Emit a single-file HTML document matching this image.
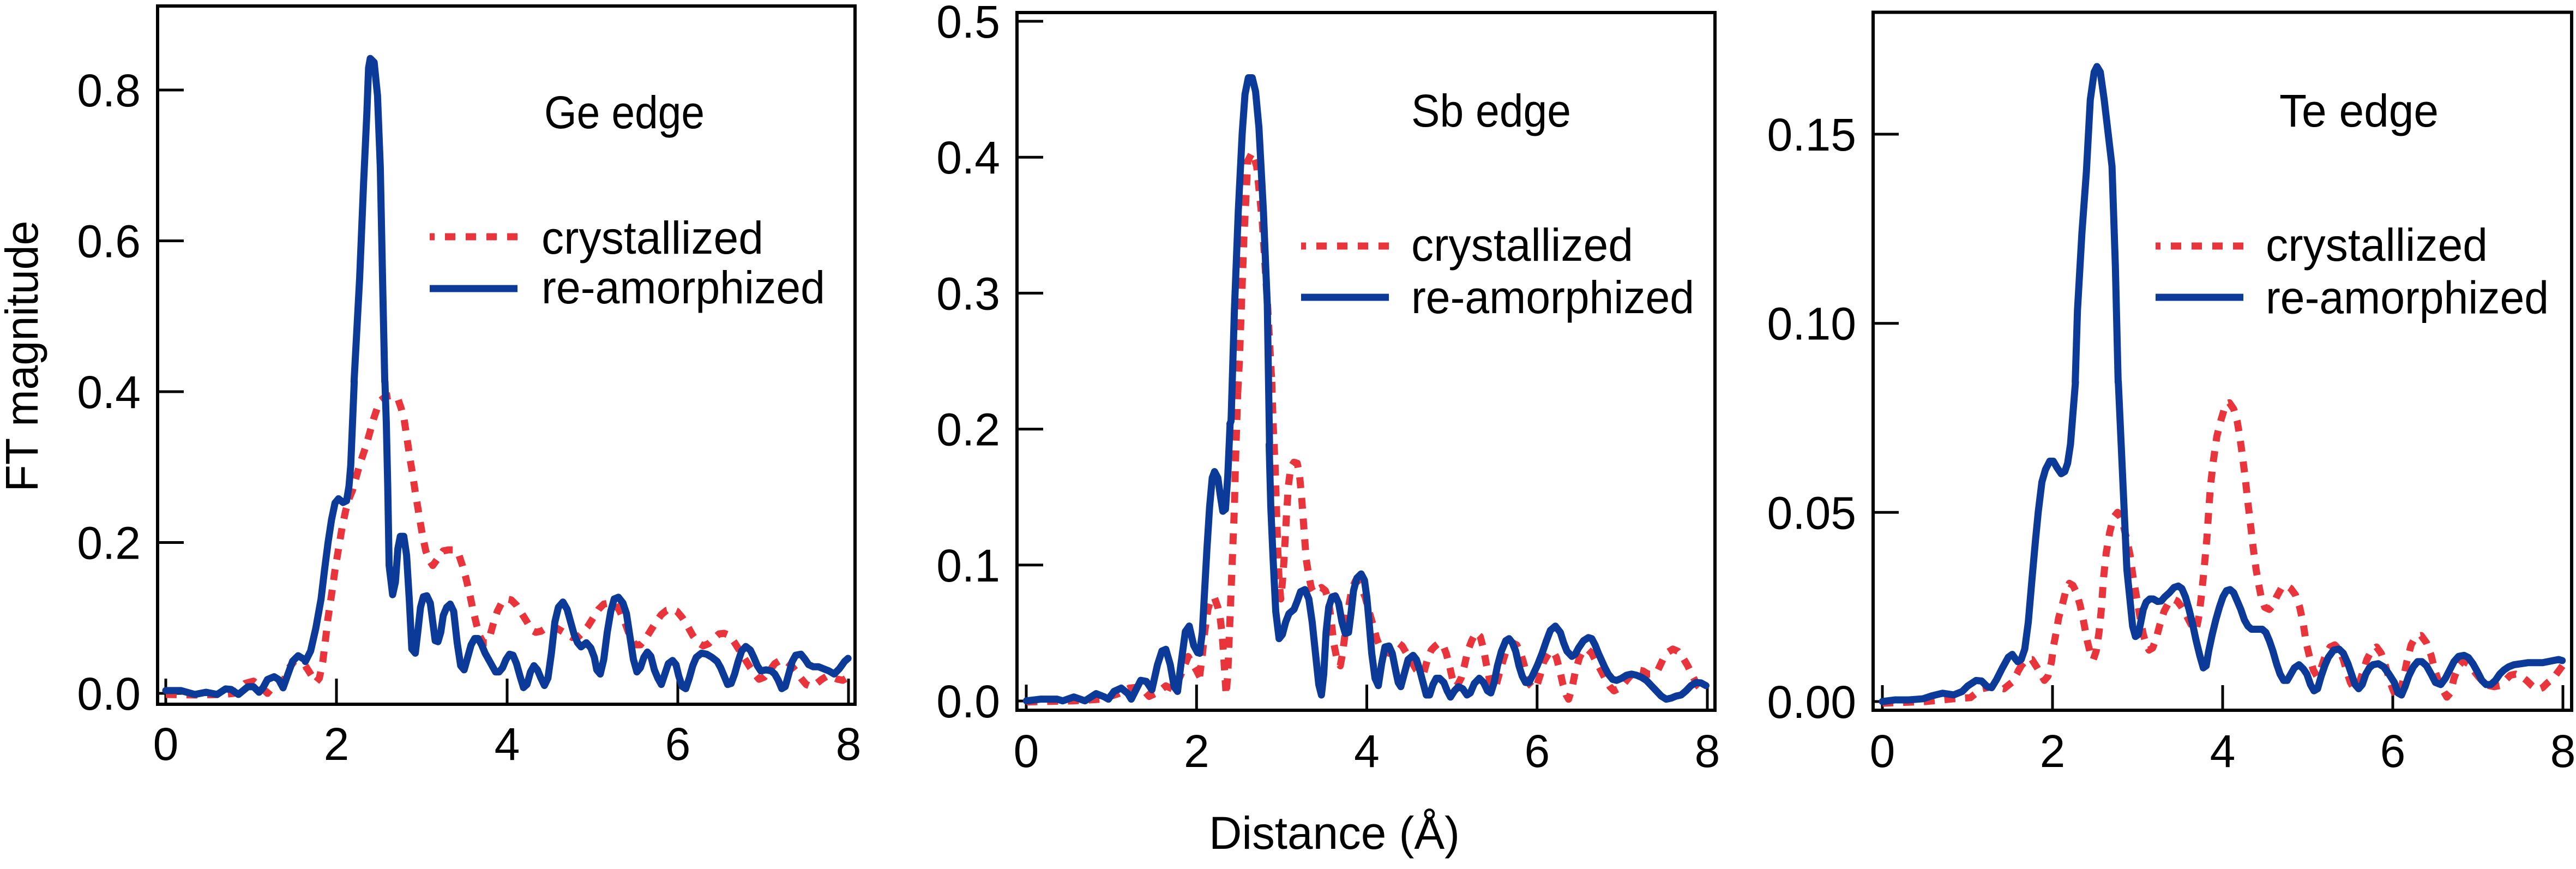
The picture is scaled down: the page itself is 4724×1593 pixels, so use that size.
<!DOCTYPE html>
<html><head><meta charset="utf-8"><style>
html,body{margin:0;padding:0;background:#fff;}
svg{display:block;}
text{font-family:"Liberation Sans",Arial,sans-serif;fill:#000;}
.b{fill:none;stroke:#0c3a98;stroke-width:13;stroke-linejoin:round;stroke-linecap:round;}
.r{fill:none;stroke:#e8343a;stroke-width:13;stroke-dasharray:20 18;stroke-linejoin:round;}
.lr{stroke:#e8343a;stroke-width:13;stroke-dasharray:19 19;stroke-dashoffset:10;}
.lb{stroke:#0c3a98;stroke-width:13;}
.fr{fill:none;stroke:#000;stroke-width:6;}
.tk{stroke:#000;stroke-width:5;}
.tl{font-size:84px;}
.lg{font-size:84px;}
</style></head><body>
<svg width="4724" height="1593" viewBox="0 0 4724 1593" xmlns="http://www.w3.org/2000/svg">
<rect x="0" y="0" width="4724" height="1593" fill="#fff"/>

<!-- ============ PANEL 1 (Ge) ============ -->
<g>
<rect class="fr" x="289" y="11" width="1279" height="1280"/>
<g class="tk">
<line x1="289" y1="1271" x2="337" y2="1271"/>
<line x1="289" y1="994.5" x2="337" y2="994.5"/>
<line x1="289" y1="718" x2="337" y2="718"/>
<line x1="289" y1="441.5" x2="337" y2="441.5"/>
<line x1="289" y1="165" x2="337" y2="165"/>
<line x1="304" y1="1291" x2="304" y2="1244"/>
<line x1="617" y1="1291" x2="617" y2="1244"/>
<line x1="930" y1="1291" x2="930" y2="1244"/>
<line x1="1243" y1="1291" x2="1243" y2="1244"/>
<line x1="1556" y1="1291" x2="1556" y2="1244"/>
</g>
<g class="tl" text-anchor="end">
<text x="258" y="1301">0.0</text>
<text x="258" y="1024.5">0.2</text>
<text x="258" y="748">0.4</text>
<text x="258" y="471.5">0.6</text>
<text x="258" y="195">0.8</text>
</g>
<g class="tl" text-anchor="middle">
<text x="304" y="1393">0</text>
<text x="617" y="1393">2</text>
<text x="930" y="1393">4</text>
<text x="1243" y="1393">6</text>
<text x="1556" y="1393">8</text>
</g>
<text class="lg" x="998" y="235" textLength="294" lengthAdjust="spacingAndGlyphs">Ge edge</text>
<line class="lr" x1="788" y1="434" x2="949" y2="434"/>
<line class="lb" x1="788" y1="529" x2="949" y2="529"/>
<text class="lg" x="993" y="465" textLength="407" lengthAdjust="spacingAndGlyphs">crystallized</text>
<text class="lg" x="993" y="556" textLength="520" lengthAdjust="spacingAndGlyphs">re-amorphized</text>

<!-- red -->
<g transform="matrix(1.02455,0,0,1.01468,-1.316,2.65)">
<polyline class="r" vector-effect="non-scaling-stroke" points="298,1252 350,1253 400,1252 420,1250 440,1232 455,1228 470,1240 480,1250 490,1238 500,1232 510,1225 518,1205 528,1192 540,1197 548,1203"/>
</g>
<g transform="matrix(0.64,0,0,0.38256,560,700)">
<polyline class="r" vector-effect="non-scaling-stroke" points="0,1360 15,1400 30,1440 40,1420 50,1340 58,1230 65,1130 75,1020 85,900 95,800 105,700 115,620 125,560 135,520 145,460 155,400 165,350 175,300 185,240 195,180 205,130 215,90 230,70 250,65 265,80 275,130 283,180 292,280 300,370 308,450 315,530 325,630 335,730 345,810 355,855 365,880 380,845 395,810 410,805 430,805 440,830 450,880 460,940 470,1010 480,1090 490,1160 500,1220 510,1250 520,1250 530,1210 540,1150 550,1100 562,1060 575,1040 590,1045 605,1070 620,1110 635,1150 648,1190 660,1200 675,1195 690,1180 705,1175 720,1180 735,1195 750,1210 765,1225 780,1225 795,1200 810,1170 825,1130 840,1090 855,1065 870,1060 885,1060 900,1095 915,1150 930,1220 945,1260 960,1260 975,1230 990,1190 1005,1150 1020,1115 1035,1095 1050,1090 1065,1100 1080,1130 1095,1170 1110,1215 1125,1250 1140,1265 1155,1255 1170,1230 1185,1208 1200,1205 1215,1215 1230,1250 1245,1290 1260,1330 1275,1370 1290,1405 1300,1425 1315,1415 1330,1385 1345,1350 1360,1335 1375,1335 1390,1355 1405,1385 1420,1420 1435,1450 1450,1460 1465,1445 1480,1425 1495,1410 1510,1415 1525,1425 1540,1430 1555,1415"/>
</g>
<!-- blue -->
<g transform="matrix(1.02455,0,0,1.01468,-1.316,2.65)">
<polyline class="b" vector-effect="non-scaling-stroke" points="298,1245 325,1245 350,1252 370,1248 390,1252 405,1242 415,1243 428,1252 445,1238 455,1238 465,1248 472,1240 480,1225 492,1220 500,1225 508,1240 515,1220 525,1192 535,1182 548,1190"/>
<polyline class="b" vector-effect="non-scaling-stroke" points="635,687 645,500 652,330 658,200 661,120 664,103 671,110 677,170 682,300 686,500 690,687"/>
</g>
<g transform="matrix(0.64,0,0,0.38256,560,700)">
<polyline class="b" vector-effect="non-scaling-stroke" points="0,1340 15,1290 30,1180 45,1040 55,900 65,770 75,660 85,580 95,560 108,578 118,570 125,500 130,400 135,200 140,0"/>
<polyline class="b" vector-effect="non-scaling-stroke" points="228,0 232,200 236,500 240,880 250,1020 258,960 265,800 272,740 282,740 290,830 298,1050 305,1280 315,1300 322,1200 330,1080 338,1030 348,1025 358,1060 365,1150 372,1240 380,1245 388,1200 395,1120 405,1080 415,1065 425,1100 435,1250 445,1360 455,1380 465,1320 475,1260 485,1230 495,1230 505,1260 515,1300 525,1330 535,1360 545,1390 555,1390 565,1370 575,1330 585,1305 595,1310 605,1350 615,1410 625,1465 635,1450 645,1390 655,1360 665,1380 675,1420 685,1455 695,1420 705,1300 715,1150 725,1080 738,1055 750,1090 760,1150 770,1210 780,1250 790,1270 805,1250 818,1275 828,1320 835,1380 845,1400 855,1330 865,1200 875,1100 885,1040 897,1032 910,1060 920,1110 930,1220 940,1330 950,1390 960,1370 970,1320 980,1295 990,1315 1000,1380 1010,1420 1020,1450 1030,1400 1040,1350 1052,1335 1062,1355 1070,1410 1080,1460 1090,1470 1100,1420 1110,1360 1120,1320 1135,1300 1150,1305 1165,1320 1180,1340 1190,1370 1200,1410 1210,1450 1220,1445 1230,1400 1240,1340 1250,1290 1262,1268 1275,1285 1285,1320 1295,1360 1305,1385 1320,1380 1335,1385 1345,1400 1355,1430 1365,1470 1375,1460 1385,1400 1395,1340 1405,1310 1420,1305 1432,1330 1442,1355 1455,1365 1470,1365 1485,1375 1500,1385 1515,1400 1530,1375 1545,1340 1555,1325"/>
</g>
</g>

<text class="lg" transform="translate(69,653) rotate(-90)" text-anchor="middle" textLength="497" lengthAdjust="spacingAndGlyphs">FT magnitude</text>

<!-- ============ PANEL 2 (Sb) ============ -->
<g>
<rect class="fr" x="1865" y="23" width="1280" height="1279"/>
<g class="tk">
<line x1="1865" y1="1285" x2="1913" y2="1285"/>
<line x1="1865" y1="1035.8" x2="1913" y2="1035.8"/>
<line x1="1865" y1="786.6" x2="1913" y2="786.6"/>
<line x1="1865" y1="537.4" x2="1913" y2="537.4"/>
<line x1="1865" y1="288.2" x2="1913" y2="288.2"/>
<line x1="1865" y1="39" x2="1913" y2="39"/>
<line x1="1882" y1="1302" x2="1882" y2="1255"/>
<line x1="2194.3" y1="1302" x2="2194.3" y2="1255"/>
<line x1="2506.5" y1="1302" x2="2506.5" y2="1255"/>
<line x1="2818.8" y1="1302" x2="2818.8" y2="1255"/>
<line x1="3131" y1="1302" x2="3131" y2="1255"/>
</g>
<g class="tl" text-anchor="end">
<text x="1834" y="1315">0.0</text>
<text x="1834" y="1065.8">0.1</text>
<text x="1834" y="816.6">0.2</text>
<text x="1834" y="567.4">0.3</text>
<text x="1834" y="318.2">0.4</text>
<text x="1834" y="69">0.5</text>
</g>
<g class="tl" text-anchor="middle">
<text x="1882" y="1406">0</text>
<text x="2194.3" y="1406">2</text>
<text x="2506.5" y="1406">4</text>
<text x="2818.8" y="1406">6</text>
<text x="3131" y="1406">8</text>
</g>
<text class="lg" x="2588" y="232" textLength="293" lengthAdjust="spacingAndGlyphs">Sb edge</text>
<line class="lr" x1="2386" y1="451" x2="2547" y2="451"/>
<line class="lb" x1="2386" y1="545" x2="2547" y2="545"/>
<text class="lg" x="2588" y="478" textLength="407" lengthAdjust="spacingAndGlyphs">crystallized</text>
<text class="lg" x="2588" y="574" textLength="519" lengthAdjust="spacingAndGlyphs">re-amorphized</text>

<!-- red -->
<g transform="matrix(1.0224,0,0,1.0153,1560.3,0.363)">
<polyline class="r" vector-effect="non-scaling-stroke" points="315,1267 400,1265 450,1262 480,1252 500,1242 520,1240 535,1257 550,1250 565,1238 580,1245 592,1218 605,1185 620,1210 626,1222"/>
<polyline class="r" vector-effect="non-scaling-stroke" points="694,708 697,650 705,430 712,290 720,275 728,300 738,400 748,560 755,689"/>
</g>
<g transform="matrix(0.6068,0,0,0.3827,2200,700)">
<polyline class="r" vector-effect="non-scaling-stroke" points="0,1410 8,1310 15,1200 25,1090 35,1035 45,1035 55,1080 62,1130 68,1210 72,1300 76,1400 80,1500 85,1400 90,1200 95,1000 100,800 105,600 108,400 112,200 115,50"/>
<polyline class="r" vector-effect="non-scaling-stroke" points="218,0 222,200 228,400 232,600 236,800 240,950 245,1040 250,960 255,850 262,650 268,500 275,410 285,385 295,390 302,450 308,550 315,700 322,850 330,930 338,990 345,1010 355,995 368,985 380,1000 390,1050 398,1150 405,1250 415,1330 425,1360 432,1300 440,1200 450,1080 460,990 472,950 485,975 500,1030 512,1100 525,1170 535,1230 545,1270 558,1290 572,1300 585,1270 600,1250 612,1265 625,1300 640,1340 655,1380 668,1400 678,1390 690,1320 700,1285 712,1265 725,1250 735,1260 745,1300 755,1360 765,1430 772,1460 780,1450 790,1420 800,1360 810,1290 822,1240 835,1200 848,1220 858,1280 866,1350 875,1420 885,1470 895,1460 905,1400 918,1330 930,1270 945,1250 958,1260 968,1290 978,1340 988,1400 998,1450 1010,1470 1020,1450 1030,1400 1040,1340 1055,1300 1068,1290 1078,1320 1088,1380 1098,1450 1108,1500 1115,1520 1125,1470 1135,1390 1148,1320 1160,1285 1172,1280 1185,1300 1198,1340 1212,1380 1225,1420 1240,1460 1252,1480 1265,1470 1280,1450 1295,1420 1310,1395 1325,1380 1340,1385 1355,1400 1370,1400 1385,1380 1400,1330 1415,1295 1430,1280 1445,1290 1460,1320 1475,1360 1490,1410 1505,1455 1520,1480 1532,1490"/>
</g>
<!-- blue -->
<g transform="matrix(1.0224,0,0,1.0153,1560.3,0.363)">
<polyline class="b" vector-effect="non-scaling-stroke" points="315,1265 340,1262 370,1262 380,1265 400,1258 420,1265 440,1252 455,1258 462,1262 472,1248 485,1242 497,1252 503,1262 510,1248 520,1228 530,1230 540,1245 550,1200 558,1175 565,1172 573,1200 580,1240 586,1248 592,1200 600,1140 607,1130 615,1165 622,1178 626,1179"/>
<polyline class="b" vector-effect="non-scaling-stroke" points="680,765 682,760 688,560 695,380 702,240 707,170 713,140 720,140 726,165 732,230 740,380 747,550 751,800"/>
</g>
<g transform="matrix(0.6068,0,0,0.3827,2200,700)">
<polyline class="b" vector-effect="non-scaling-stroke" points="0,1300 8,1200 15,1000 22,800 30,600 38,460 45,430 55,460 62,540 70,620 78,610 85,450 92,200"/>
<polyline class="b" vector-effect="non-scaling-stroke" points="210,300 215,600 222,850 230,1100 240,1230 250,1210 260,1150 270,1110 285,1090 295,1050 305,1005 318,995 330,1040 340,1150 350,1300 360,1450 368,1500 375,1400 382,1200 390,1080 400,1030 410,1025 420,1060 430,1150 440,1205 450,1200 458,1100 465,1000 475,940 488,920 498,950 505,1030 512,1150 520,1300 530,1420 540,1455 550,1350 560,1270 572,1265 582,1300 592,1380 600,1440 608,1460 618,1400 630,1330 645,1310 655,1330 665,1380 675,1440 685,1500 695,1500 705,1450 715,1420 725,1420 738,1440 748,1480 758,1510 770,1480 782,1460 795,1470 808,1500 818,1490 830,1445 845,1420 858,1440 870,1480 880,1490 890,1440 900,1360 912,1290 925,1240 935,1230 945,1250 955,1290 965,1360 975,1410 985,1440 995,1440 1005,1410 1020,1360 1035,1300 1048,1240 1060,1190 1075,1170 1090,1200 1100,1250 1110,1290 1125,1315 1135,1305 1145,1275 1160,1240 1175,1225 1185,1230 1195,1260 1205,1300 1215,1335 1225,1370 1235,1400 1248,1425 1260,1430 1275,1420 1290,1405 1305,1400 1320,1405 1335,1415 1350,1430 1365,1455 1380,1480 1395,1505 1410,1520 1425,1515 1440,1505 1455,1500 1470,1480 1485,1455 1500,1440 1515,1442 1530,1455"/>
</g>
</g>

<text class="lg" x="2217" y="1556" textLength="460" lengthAdjust="spacingAndGlyphs">Distance (Å)</text>

<!-- ============ PANEL 3 (Te) ============ -->
<g>
<rect class="fr" x="3435" y="22.5" width="1281" height="1279.5"/>
<g class="tk">
<line x1="3435" y1="1286" x2="3482" y2="1286"/>
<line x1="3435" y1="939.3" x2="3482" y2="939.3"/>
<line x1="3435" y1="592.7" x2="3482" y2="592.7"/>
<line x1="3435" y1="246" x2="3482" y2="246"/>
<line x1="3452" y1="1302" x2="3452" y2="1256"/>
<line x1="3764" y1="1302" x2="3764" y2="1256"/>
<line x1="4076" y1="1302" x2="4076" y2="1256"/>
<line x1="4388" y1="1302" x2="4388" y2="1256"/>
<line x1="4700" y1="1302" x2="4700" y2="1256"/>
</g>
<g class="tl" text-anchor="end">
<text x="3404" y="1316">0.00</text>
<text x="3404" y="969.3">0.05</text>
<text x="3404" y="622.7">0.10</text>
<text x="3404" y="276">0.15</text>
</g>
<g class="tl" text-anchor="middle">
<text x="3452" y="1406">0</text>
<text x="3764" y="1406">2</text>
<text x="4076" y="1406">4</text>
<text x="4388" y="1406">6</text>
<text x="4700" y="1406">8</text>
</g>
<text class="lg" x="4180" y="232" textLength="292" lengthAdjust="spacingAndGlyphs">Te edge</text>
<line class="lr" x1="3953" y1="451" x2="4114" y2="451"/>
<line class="lb" x1="3953" y1="545" x2="4114" y2="545"/>
<text class="lg" x="4155" y="478" textLength="407" lengthAdjust="spacingAndGlyphs">crystallized</text>
<text class="lg" x="4155" y="574.5" textLength="519" lengthAdjust="spacingAndGlyphs">re-amorphized</text>

<!-- red -->
<g transform="matrix(1.02211,0,0,1.01662,3122.9,-0.02)">
<polyline class="r" vector-effect="non-scaling-stroke" points="322,1268 400,1265 450,1260 480,1258 500,1242 520,1238 540,1242 555,1230 565,1212"/>
</g>
<g transform="matrix(0.65488,0,0,0.3827,3700,700)">
<polyline class="r" vector-effect="non-scaling-stroke" points="0,1390 10,1360 25,1330 40,1330 55,1370 65,1400 75,1430 85,1410 95,1340 100,1270 108,1200 115,1130 125,1070 135,1000 145,965 155,975 165,1010 175,1070 185,1150 195,1240 205,1310 212,1330 220,1290 228,1200 235,1080 240,950 248,820 258,720 268,650 280,625 292,660 305,750 315,830 322,920 330,1000 338,1080 345,1150 352,1210 360,1260 368,1285 378,1275 388,1230 398,1165 410,1100 422,1060 435,1040 447,1050 458,1075 470,1110 482,1150 492,1180 500,1190 508,1120 515,1020 522,900 530,750 535,620 540,500 548,380 558,260 570,180 583,105 593,100 605,130 615,190 622,260 630,360 638,470 645,580 652,680 660,800 668,900 675,970 682,1030 692,1080 705,1090 715,1070 725,1030 738,990 752,975 765,990 778,1020 790,1080 800,1160 808,1250 818,1320 828,1380 838,1410 850,1370 862,1310 875,1270 888,1260 900,1280 912,1330 922,1390 932,1440 942,1470 955,1450 965,1400 978,1330 990,1290 1005,1270 1018,1300 1030,1360 1040,1420 1050,1470 1060,1510 1068,1500 1078,1440 1090,1340 1102,1260 1115,1220 1130,1215 1145,1250 1158,1310 1168,1380 1180,1440 1192,1480 1202,1510 1212,1490 1222,1420 1235,1360 1248,1335 1262,1350 1278,1385 1292,1415 1305,1440 1320,1455 1335,1460 1350,1455 1365,1430 1380,1405 1395,1400 1410,1410 1425,1430 1440,1455 1455,1475 1470,1465 1485,1440 1500,1420 1515,1385 1528,1355"/>
</g>
<!-- blue -->
<g transform="matrix(1.02211,0,0,1.01662,3122.9,-0.02)">
<polyline class="b" vector-effect="non-scaling-stroke" points="322,1265 345,1262 370,1262 395,1260 410,1255 430,1250 450,1253 465,1247 475,1237 490,1227 500,1228 510,1238 518,1240 527,1225 537,1205 548,1185 555,1180 562,1190 565,1192"/>
<polyline class="b" vector-effect="non-scaling-stroke" points="668,689 672,560 680,420 688,310 695,180 702,130 707,120 713,130 720,180 727,240 734,300 740,480 745,689"/>
</g>
<g transform="matrix(0.65488,0,0,0.3827,3700,700)">
<polyline class="b" vector-effect="non-scaling-stroke" points="0,1340 10,1330 20,1280 30,1150 40,950 50,760 58,620 68,480 78,420 90,380 100,380 110,410 122,440 132,430 140,390 148,300 155,150 162,0"/>
<polyline class="b" vector-effect="non-scaling-stroke" points="282,0 290,300 298,600 306,900 315,1050 322,1170 330,1220 338,1210 345,1150 352,1090 360,1055 370,1040 380,1040 392,1052 402,1050 412,1030 425,1010 438,985 450,978 460,990 470,1030 480,1090 490,1160 500,1240 510,1310 520,1370 528,1360 535,1290 545,1210 555,1140 565,1080 575,1030 585,1000 595,995 605,1010 615,1050 625,1090 635,1140 645,1170 655,1185 670,1185 685,1185 695,1200 705,1240 715,1290 725,1350 735,1400 745,1430 755,1430 765,1400 775,1370 788,1355 800,1375 810,1400 820,1450 830,1480 840,1470 850,1410 860,1360 870,1320 885,1285 900,1280 912,1300 925,1350 935,1400 945,1450 955,1470 965,1450 975,1400 985,1370 995,1355 1010,1350 1025,1365 1040,1400 1055,1440 1065,1490 1075,1500 1085,1460 1095,1410 1108,1365 1120,1340 1132,1340 1145,1360 1158,1400 1170,1440 1185,1450 1198,1420 1210,1380 1222,1340 1235,1315 1250,1310 1262,1320 1275,1350 1288,1390 1300,1430 1312,1450 1325,1450 1338,1430 1350,1400 1362,1380 1375,1365 1390,1355 1410,1350 1430,1345 1450,1345 1470,1345 1485,1340 1500,1335 1515,1330 1525,1335"/>
</g>
</g>
</svg>
</body></html>
